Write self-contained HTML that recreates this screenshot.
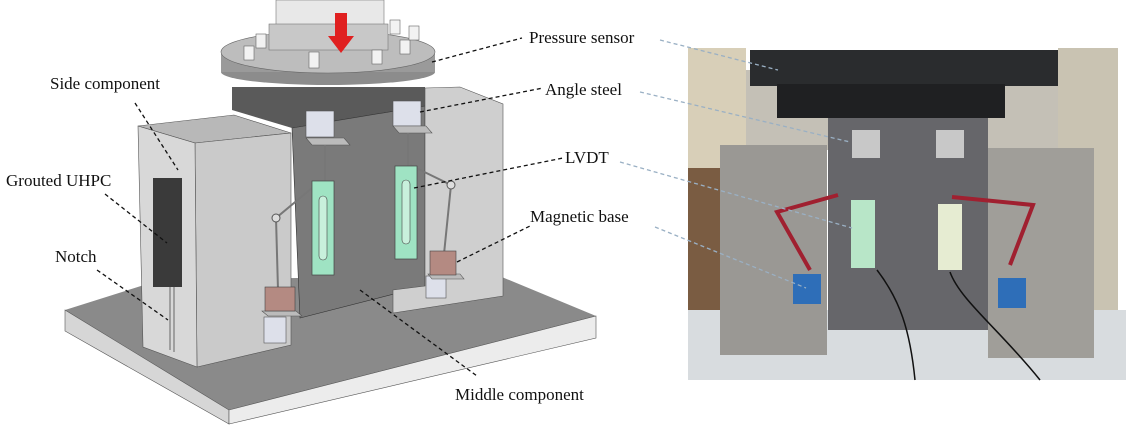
<!DOCTYPE html>
<html><head><meta charset="utf-8"><style>
html,body{margin:0;padding:0;background:#fff;}
svg{display:block;}
text{font-family:"Liberation Serif",serif;font-size:17px;fill:#111;}
</style></head><body>
<svg width="1138" height="432" viewBox="0 0 1138 432" xmlns="http://www.w3.org/2000/svg">
<!-- base plate -->
<polygon points="65,310 160,280 497,275 596,316 229,410" fill="#8a8a8a"/>
<polygon points="65,310 229,410 229,424 65,331" fill="#d6d6d6" stroke="#555" stroke-width="0.6"/>
<polygon points="229,410 596,316 596,338 229,424" fill="#ececec" stroke="#555" stroke-width="0.6"/>
<!-- middle component -->
<polygon points="232,87 425,87 425,106 292,128 232,110" fill="#5a5a5a"/>
<polygon points="292,128 425,106 425,286 300,318" fill="#7a7a7a" stroke="#333" stroke-width="0.6"/>
<!-- right side block -->
<polygon points="425,88 460,87 503,104 503,296 393,313 393,290 425,286" fill="#cfcfcf" stroke="#555" stroke-width="0.6"/>
<!-- left side block -->
<polygon points="138,126 234,115 291,133 195,143" fill="#b8b8b8" stroke="#555" stroke-width="0.6"/>
<polygon points="195,143 291,133 291,345 197,367" fill="#cacaca" stroke="#555" stroke-width="0.6"/>
<polygon points="138,126 195,143 197,367 143,347" fill="#d8d8d8" stroke="#555" stroke-width="0.6"/>
<rect x="153" y="178" width="29" height="109" fill="#3a3a3a"/>
<line x1="170" y1="287" x2="170" y2="350" stroke="#666"/>
<line x1="174" y1="287" x2="174" y2="352" stroke="#666"/>
<!-- column & flange -->
<ellipse cx="328" cy="72" rx="107" ry="13" fill="#8c8c8c"/>
<rect x="221" y="52" width="214" height="20" fill="#9a9a9a"/>
<ellipse cx="328" cy="52" rx="107" ry="21" fill="#bdbdbd" stroke="#666" stroke-width="0.6"/>
<rect x="276" y="0" width="108" height="30" fill="#e8e8e8" stroke="#777" stroke-width="0.6"/>
<rect x="269" y="24" width="119" height="26" fill="#c8c8c8" stroke="#777" stroke-width="0.6"/>
<g fill="#f2f2f2" stroke="#666" stroke-width="0.6">
<rect x="244" y="46" width="10" height="14"/><rect x="256" y="34" width="10" height="14"/>
<rect x="309" y="52" width="10" height="16"/><rect x="372" y="50" width="10" height="14"/>
<rect x="400" y="40" width="10" height="14"/><rect x="390" y="20" width="10" height="14"/>
<rect x="409" y="26" width="10" height="14"/>
</g>
<polygon points="335,13 347,13 347,36 354,36 341,53 328,36 335,36" fill="#e02020"/>
<!-- angle steels -->
<rect x="306" y="111" width="28" height="26" fill="#dde0ea" stroke="#555" stroke-width="0.6"/>
<polygon points="306,138 344,138 350,145 312,145" fill="#bbb" stroke="#555" stroke-width="0.6"/>
<rect x="393" y="101" width="28" height="25" fill="#dde0ea" stroke="#555" stroke-width="0.6"/>
<polygon points="393,126 426,126 432,133 399,133" fill="#bbb" stroke="#555" stroke-width="0.6"/>
<rect x="264" y="317" width="22" height="26" fill="#dde0ea" stroke="#555" stroke-width="0.6"/>
<polygon points="262,311 296,311 302,316 268,316" fill="#bbb" stroke="#555" stroke-width="0.6"/>
<rect x="426" y="276" width="20" height="22" fill="#dde0ea" stroke="#555" stroke-width="0.6"/>
<polygon points="428,274 460,274 464,279 432,279" fill="#bbb" stroke="#555" stroke-width="0.6"/>
<!-- rods -->
<g stroke="#777" stroke-width="2" fill="none">
<line x1="325" y1="145" x2="325" y2="181"/><line x1="408" y1="133" x2="408" y2="166"/>
<polyline points="318,183 276,218 278,290"/><polyline points="410,165 451,185 444,254"/>
</g>
<circle cx="276" cy="218" r="4" fill="#ddd" stroke="#555"/>
<circle cx="451" cy="185" r="4" fill="#ddd" stroke="#555"/>
<!-- LVDTs -->
<rect x="312" y="181" width="22" height="94" fill="#9fe3c3" stroke="#444" stroke-width="0.7"/>
<rect x="319" y="196" width="8" height="64" rx="4" fill="#c8f0dc" stroke="#444" stroke-width="0.6"/>
<rect x="395" y="166" width="22" height="93" fill="#9fe3c3" stroke="#444" stroke-width="0.7"/>
<rect x="402" y="180" width="8" height="64" rx="4" fill="#c8f0dc" stroke="#444" stroke-width="0.6"/>
<!-- magnetic bases -->
<rect x="265" y="287" width="30" height="24" fill="#b48a82" stroke="#444" stroke-width="0.6"/>
<rect x="430" y="251" width="26" height="24" fill="#b48a82" stroke="#444" stroke-width="0.6"/>
<!-- dashed leaders -->
<g stroke="#111" stroke-width="1.3" stroke-dasharray="4,3" fill="none">
<line x1="135" y1="103" x2="178" y2="170"/>
<line x1="105" y1="194" x2="167" y2="243"/>
<line x1="97" y1="270" x2="168" y2="320"/>
<line x1="432" y1="62" x2="522" y2="38"/>
<line x1="420" y1="112" x2="543" y2="88"/>
<line x1="414" y1="188" x2="563" y2="158"/>
<line x1="457" y1="262" x2="530" y2="226"/>
<line x1="360" y1="290" x2="477" y2="376"/>
</g>
<!-- photo -->
<rect x="688" y="48" width="58" height="290" fill="#d8cfb8"/>
<rect x="1058" y="48" width="60" height="290" fill="#c9c3b2"/>
<rect x="746" y="70" width="312" height="80" fill="#c4c0b6"/>
<rect x="688" y="168" width="40" height="170" fill="#7a5c42"/>
<rect x="688" y="310" width="438" height="70" fill="#d8dcdf"/>
<rect x="750" y="50" width="308" height="36" fill="#2a2c2e"/>
<rect x="777" y="84" width="228" height="34" fill="#1f2022"/>
<rect x="828" y="118" width="160" height="212" fill="#66666a"/>
<rect x="720" y="145" width="107" height="210" fill="#9a9894"/>
<rect x="988" y="148" width="106" height="210" fill="#a09e99"/>
<rect x="852" y="130" width="28" height="28" fill="#c8c8c8"/>
<rect x="936" y="130" width="28" height="28" fill="#c8c8c8"/>
<rect x="851" y="200" width="24" height="68" fill="#b8e6c8"/>
<rect x="938" y="204" width="24" height="66" fill="#e6ecd2"/>
<g stroke="#a02030" stroke-width="4" fill="none">
<polyline points="838,195 777,212 810,270"/><polyline points="952,197 1033,205 1010,265"/>
</g>
<rect x="793" y="274" width="28" height="30" fill="#2e6eb8"/>
<rect x="998" y="278" width="28" height="30" fill="#2e6eb8"/>
<g stroke="#111" stroke-width="1.5" fill="none">
<path d="M877,270 C900,300 910,330 915,380"/><path d="M950,272 C960,300 1000,330 1040,380"/>
</g>
<!-- light leaders -->
<g stroke="#9ab0c4" stroke-width="1.3" stroke-dasharray="4,3" fill="none">
<line x1="660" y1="40" x2="778" y2="70"/>
<line x1="640" y1="92" x2="850" y2="142"/>
<line x1="620" y1="162" x2="852" y2="228"/>
<line x1="655" y1="227" x2="806" y2="288"/>
</g>
<!-- labels -->
<text x="529" y="43">Pressure sensor</text>
<text x="545" y="95">Angle steel</text>
<text x="565" y="163">LVDT</text>
<text x="530" y="222">Magnetic base</text>
<text x="455" y="400">Middle component</text>
<text x="50" y="89">Side component</text>
<text x="6" y="186">Grouted UHPC</text>
<text x="55" y="262">Notch</text>
</svg>
</body></html>
